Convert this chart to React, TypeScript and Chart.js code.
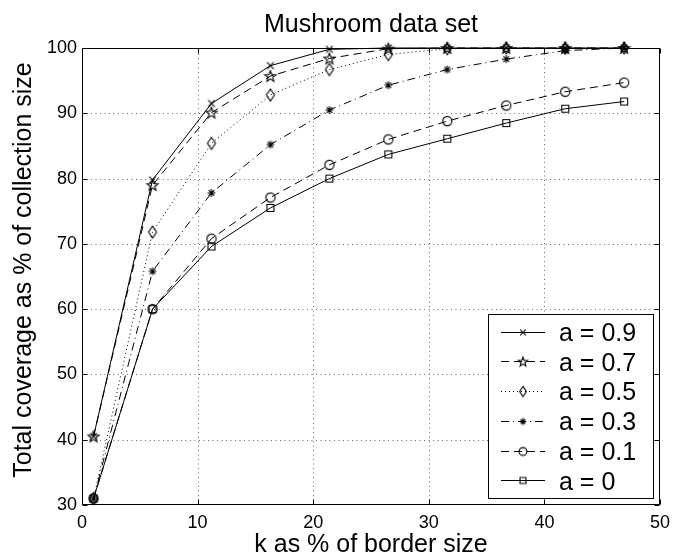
import React, { useEffect, useRef } from "react";
import { Chart, registerables } from "chart.js";

Chart.register(...registerables);

const TITLE = "Mushroom data set";
const X_TITLE = "k as % of border size";
const Y_TITLE = "Total coverage as % of collection size";

const kValues = [1, 6.1, 11.2, 16.3, 21.4, 26.5, 31.6, 36.7, 41.8, 46.9];

const seriesLabels = ["a = 0.9", "a = 0.7", "a = 0.5", "a = 0.3", "a = 0.1", "a = 0"];
const a09 = [40.5, 79.8, 91.5, 97.3, 99.8, 100, 100, 100, 100, 100];
const a07 = [40.5, 79.0, 90.1, 95.7, 98.4, 99.9, 100, 100, 100, 100];
const a05 = [31, 71.8, 85.4, 92.8, 96.7, 99.0, 99.9, 100, 100, 100];
const a03 = [31, 65.8, 77.8, 85.2, 90.5, 94.3, 96.7, 98.3, 99.6, 100];
const a01 = [31, 60, 70.8, 77.1, 82.1, 86.0, 88.8, 91.2, 93.3, 94.7];
const a00 = [31, 60, 69.6, 75.5, 80.0, 83.7, 86.1, 88.5, 90.7, 91.8];
const seriesValues = [a09, a07, a05, a03, a01, a00];

const markerKinds = ["x", "pentagram", "diamond", "asterisk", "circle", "square"];
const dashPatterns: number[][] = [[], [8, 5], [1, 3], [8, 4, 1, 4], [8, 5], []];

const xTicks = [0, 10, 20, 30, 40, 50];
const yTicks = [30, 40, 50, 60, 70, 80, 90, 100];

const FONT = "'Liberation Sans', Arial, Helvetica, sans-serif";

function makeMarker(kind: string, scale = 1): HTMLCanvasElement {
  const s = 16;
  const c = document.createElement("canvas");
  c.width = s;
  c.height = s;
  const g = c.getContext("2d")!;
  g.strokeStyle = "#000";
  g.lineWidth = 1.1;
  const m = s / 2;
  g.beginPath();
  if (kind === "x") {
    const r = 3.3 * scale;
    g.moveTo(m - r, m - r);
    g.lineTo(m + r, m + r);
    g.moveTo(m + r, m - r);
    g.lineTo(m - r, m + r);
  } else if (kind === "pentagram") {
    for (let i = 0; i < 10; i++) {
      const r = (i % 2 === 0 ? 5.8 : 2.4) * scale;
      const ang = -Math.PI / 2 + (i * Math.PI) / 5;
      const px = m + r * Math.cos(ang);
      const py = m + 0.5 + r * Math.sin(ang);
      if (i === 0) g.moveTo(px, py);
      else g.lineTo(px, py);
    }
    g.closePath();
  } else if (kind === "diamond") {
    g.moveTo(m, m - 6 * scale);
    g.lineTo(m + 4 * scale, m);
    g.lineTo(m, m + 6 * scale);
    g.lineTo(m - 4 * scale, m);
    g.closePath();
  } else if (kind === "asterisk") {
    const r = 4 * scale;
    const d = r * Math.SQRT1_2;
    g.moveTo(m - r, m);
    g.lineTo(m + r, m);
    g.moveTo(m, m - r);
    g.lineTo(m, m + r);
    g.moveTo(m - d, m - d);
    g.lineTo(m + d, m + d);
    g.moveTo(m + d, m - d);
    g.lineTo(m - d, m + d);
  } else if (kind === "circle") {
    g.arc(m, m, 4.6 * scale, 0, Math.PI * 2);
  } else if (kind === "square") {
    g.rect(m - 3.5 * scale, m - 3.5 * scale, 7 * scale, 7 * scale);
  }
  g.stroke();
  return c;
}

export default function App() {
  const ref = useRef<HTMLCanvasElement | null>(null);

  useEffect(() => {
    if (!ref.current) return;
    const markers = markerKinds.map((k) => makeMarker(k));
    const legendMarkers = markerKinds.map((k) => makeMarker(k, 0.85));

    const datasets = seriesLabels.map((label, i) => ({
      label,
      data: kValues.map((k, j) => ({ x: k, y: seriesValues[i][j] })),
      borderColor: "#000",
      backgroundColor: "transparent",
      borderWidth: 1,
      borderDash: dashPatterns[i],
      pointStyle: markers[i] as any,
      pointRadius: 5,
      pointHoverRadius: 5,
      tension: 0,
      clip: false as any,
    }));

    const gridPlugin = {
      id: "dottedGrid",
      beforeDatasetsDraw(chart: any) {
        const ctx: CanvasRenderingContext2D = chart.ctx;
        const a = chart.chartArea;
        const xs = chart.scales.x;
        const ys = chart.scales.y;
        ctx.save();
        ctx.strokeStyle = "#6a6a6a";
        ctx.lineWidth = 1;
        ctx.setLineDash([1, 3.5]);
        ctx.beginPath();
        xTicks.slice(1, -1).forEach((v) => {
          const px = Math.round(xs.getPixelForValue(v)) + 0.5;
          ctx.moveTo(px, a.bottom);
          ctx.lineTo(px, a.top);
        });
        yTicks.slice(1, -1).forEach((v) => {
          const py = Math.round(ys.getPixelForValue(v)) + 0.5;
          ctx.moveTo(a.left, py);
          ctx.lineTo(a.right, py);
        });
        ctx.stroke();
        ctx.restore();
      },
    };

    const decor = {
      id: "decor",
      afterDraw(chart: any) {
        const ctx: CanvasRenderingContext2D = chart.ctx;
        const a = chart.chartArea;
        const xs = chart.scales.x;
        const ys = chart.scales.y;
        ctx.save();
        // frame
        ctx.strokeStyle = "#000";
        ctx.lineWidth = 1;
        ctx.setLineDash([]);
        const L = Math.round(a.left) + 0.5;
        const R = Math.round(a.right) - 0.5;
        const T = Math.round(a.top) + 0.5;
        const B = Math.round(a.bottom) - 0.5;
        ctx.strokeRect(L, T, R - L, B - T);
        // inner ticks
        ctx.beginPath();
        const tl = 5;
        xTicks.forEach((v) => {
          const px = Math.round(xs.getPixelForValue(v)) + 0.5;
          ctx.moveTo(px, B);
          ctx.lineTo(px, B - tl);
          ctx.moveTo(px, T);
          ctx.lineTo(px, T + tl);
        });
        yTicks.forEach((v) => {
          const py = Math.round(ys.getPixelForValue(v)) + 0.5;
          ctx.moveTo(L, py);
          ctx.lineTo(L + tl, py);
          ctx.moveTo(R, py);
          ctx.lineTo(R - tl, py);
        });
        ctx.stroke();

        // titles
        ctx.fillStyle = "#000";
        ctx.font = `25px ${FONT}`;
        ctx.textAlign = "center";
        ctx.textBaseline = "alphabetic";
        const cx = (a.left + a.right) / 2;
        ctx.fillText(TITLE, cx, 32);
        ctx.fillText(X_TITLE, cx, 552);
        ctx.save();
        ctx.translate(31, 270);
        ctx.rotate(-Math.PI / 2);
        ctx.fillText(Y_TITLE, 0, 0);
        ctx.restore();

        // legend
        const bx = 488.5, by = 314.5, bw = 165, bh = 184;
        ctx.fillStyle = "#fff";
        ctx.fillRect(bx, by, bw, bh);
        ctx.strokeStyle = "#000";
        ctx.strokeRect(bx, by, bw, bh);
        ctx.font = `25px ${FONT}`;
        ctx.textAlign = "left";
        ctx.textBaseline = "alphabetic";
        seriesLabels.forEach((label, i) => {
          const cy = 331.7 + i * 29.7;
          ctx.beginPath();
          ctx.setLineDash(dashPatterns[i]);
          ctx.moveTo(501, Math.round(cy) + 0.5);
          ctx.lineTo(545, Math.round(cy) + 0.5);
          ctx.stroke();
          ctx.setLineDash([]);
          const mk = legendMarkers[i];
          ctx.drawImage(mk, 523 - mk.width / 2, Math.round(cy) + 0.5 - mk.height / 2);
          ctx.fillStyle = "#000";
          ctx.fillText(label, 559, cy + 9.3);
        });
        ctx.restore();
      },
    };

    const chart = new Chart(ref.current, {
      type: "line",
      data: { datasets: datasets as any },
      options: {
        responsive: false,
        animation: false,
        devicePixelRatio: 1,
        layout: { padding: { left: 0, right: 19, top: 48, bottom: 0 } },
        plugins: {
          legend: { display: false },
          title: { display: false },
          tooltip: { enabled: false },
        },
        scales: {
          x: {
            type: "linear",
            min: 0,
            max: 50,
            afterFit: (s: any) => {
              s.height = 50;
            },
            afterBuildTicks: (s: any) => {
              s.ticks = xTicks.map((v) => ({ value: v }));
            },
            ticks: {
              color: "#000",
              font: { family: FONT, size: 18 },
              padding: 7,
              maxRotation: 0,
              autoSkip: false,
            },
            grid: { display: false, drawTicks: false },
            border: { display: false },
          },
          y: {
            type: "linear",
            min: 30,
            max: 100,
            afterFit: (s: any) => {
              s.width = 82;
            },
            afterBuildTicks: (s: any) => {
              s.ticks = yTicks.map((v) => ({ value: v }));
            },
            ticks: {
              color: "#000",
              font: { family: FONT, size: 18 },
              padding: 5,
              autoSkip: false,
            },
            grid: { display: false, drawTicks: false },
            border: { display: false },
          },
        },
      },
      plugins: [gridPlugin, decor],
    });
    return () => chart.destroy();
  }, []);

  return (
    <div style={{ position: "fixed", left: 0, top: 0, width: 679, height: 555, background: "#fff" }}>
      <canvas ref={ref} width={679} height={555} />
    </div>
  );
}
